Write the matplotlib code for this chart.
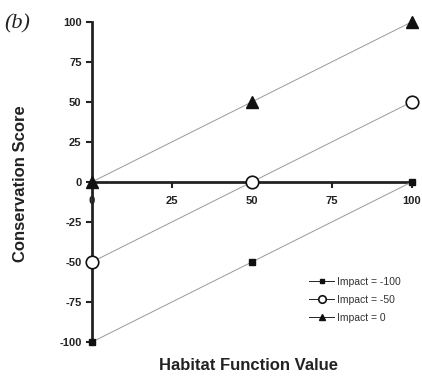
import matplotlib
matplotlib.use("Agg")
import matplotlib.pyplot as plt

plt.rcParams["font.family"] = ["Liberation Sans", "DejaVu Sans"]
plt.rcParams["axes.unicode_minus"] = False

# habitat function values (x) and conservation scores per impact level
habitat = [0, 50, 100]
score_m100 = [-100, -50, 0]
score_m50 = [-50, 0, 50]
score_0 = [0, 50, 100]
labels = ["Impact = -100", "Impact = -50", "Impact = 0"]
xticks = [0, 25, 50, 75, 100]
yticks = [-100, -75, -50, -25, 0, 25, 50, 75, 100]

fig = plt.figure(figsize=(4.22, 3.83), dpi=100)
ax = fig.add_axes([0.218, 0.107, 0.758, 0.836])

line_kw = dict(color="#999999", lw=0.7, clip_on=False, zorder=3)
ax.plot(habitat, score_m100, marker="s", ms=4, mfc="#111111", mec="#111111",
        label=labels[0], **line_kw)
ax.plot(habitat, score_m50, marker="o", ms=9, mfc="white", mec="#111111",
        mew=1.2, label=labels[1], **line_kw)
ax.plot(habitat, score_0, marker="^", ms=8, mfc="#111111", mec="#111111",
        label=labels[2], **line_kw)

ax.set_xlim(0, 100)
ax.set_ylim(-100, 100)
ax.set_xticks(xticks)
ax.set_yticks(yticks)

for s in ["top", "right"]:
    ax.spines[s].set_visible(False)
ax.spines["bottom"].set_position(("data", 0))
ax.spines["bottom"].set_linewidth(2)
ax.spines["left"].set_linewidth(2)
ax.spines["bottom"].set_color("#222222")
ax.spines["left"].set_color("#222222")

ax.tick_params(axis="both", labelsize=8, width=1.5, length=4, color="#222222",
               labelcolor="#222222")
ax.tick_params(axis="x", pad=6)
for t in ax.get_xticklabels() + ax.get_yticklabels():
    t.set_fontweight("bold")

fig.text(0.048, 0.52, "Conservation Score", rotation=90, ha="center",
         va="center", fontsize=12, fontweight="bold", color="#222222")
fig.text(0.59, 0.045, "Habitat Function Value", ha="center", va="center",
         fontsize=12, fontweight="bold", color="#222222")
fig.text(0.01, 0.925, "(b)", fontsize=16, style="italic",
         family="Liberation Serif", color="#222222")

leg = ax.legend(loc="upper left", bbox_to_anchor=(0.72, 0.29),
                bbox_transform=fig.transFigure, frameon=False,
                fontsize=7.5, handlelength=2.4, labelspacing=0.75,
                handletextpad=0.3, markerscale=0.6, borderpad=0)
for h in leg.legend_handles:
    h.set_color("#222222")
for t in leg.get_texts():
    t.set_color("#333333")

fig.savefig("out.png", dpi=100)
